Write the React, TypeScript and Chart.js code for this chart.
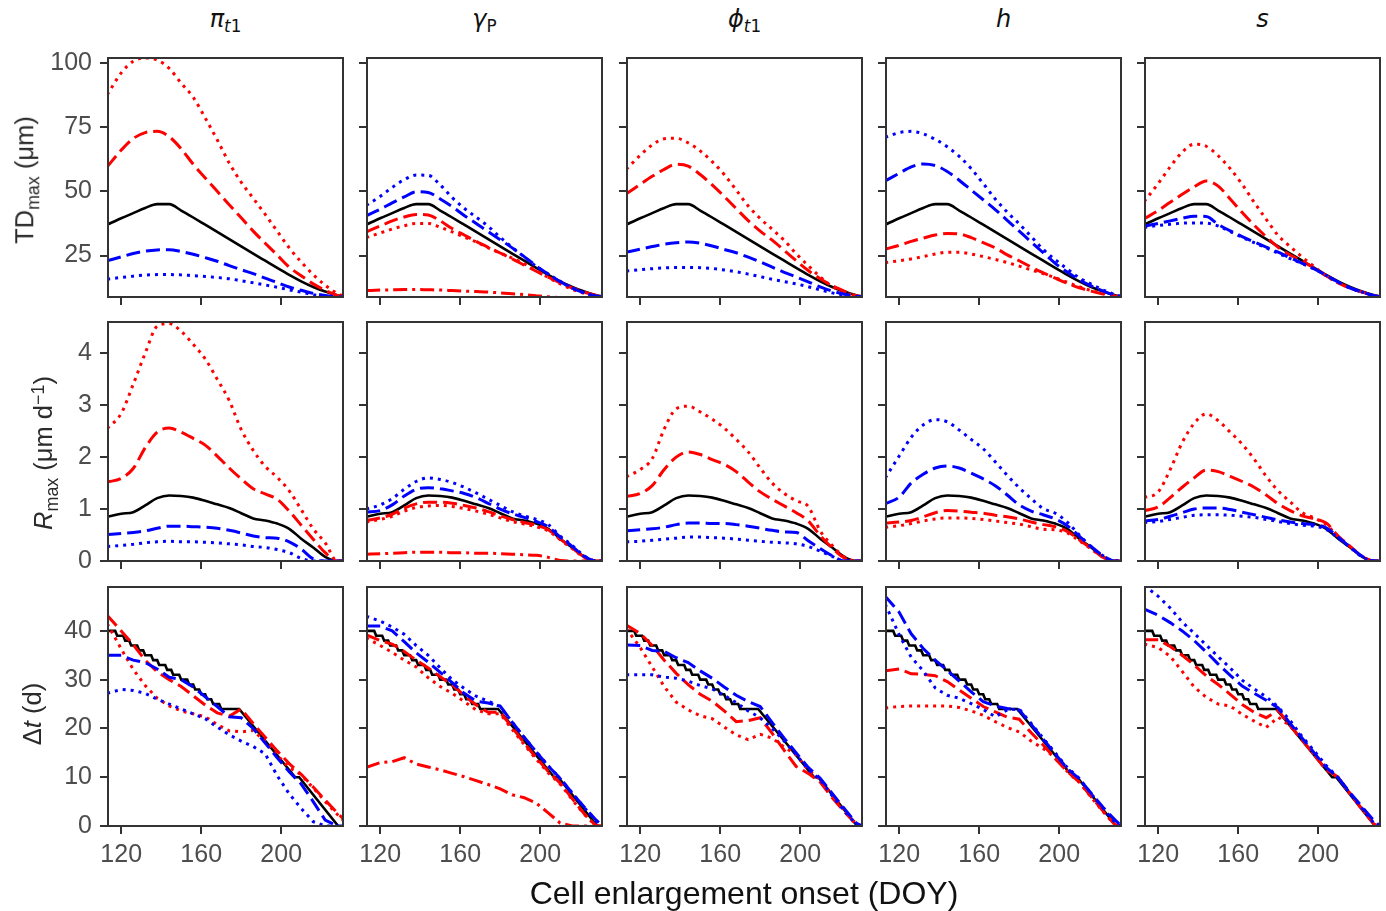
import React, { useEffect, useRef } from "react";
import { Chart, registerables } from "chart.js";
Chart.register(...registerables);

// ---------- shared x grid (DOY) for the smooth rows ----------
const X = [113, 120, 126, 132, 138, 144, 150, 156, 162, 168, 174, 180, 186, 192, 198, 204, 210, 216, 222, 228, 231];

// ---------- Row 1: TDmax (µm) ----------
const TD_BASE = [37, 39.5, 41.5, 43.5, 45, 45, 42.5, 39.8, 37, 34.2, 31.4, 28.6, 25.8, 23, 20.2, 17.5, 15, 12.8, 11, 9.6, 9.1];
const TD_PI_RDOT = [87.5, 96, 100.5, 101.8, 101, 97.8, 92, 86.5, 78.5, 70, 61, 53.5, 47.3, 41, 34.5, 28, 22.5, 17.6, 13.5, 10.3, 9.3];
const TD_PI_RDASH = [59.5, 66, 70.5, 72.8, 73.3, 71.2, 66.5, 60.5, 55.2, 50, 44.8, 39.7, 34.5, 29.8, 25.2, 20.5, 17.2, 14, 11.5, 9.5, 9];
const TD_PI_BDASH = [23, 24.5, 25.8, 26.7, 27.2, 27.3, 26.6, 25.5, 24.2, 22.8, 21.1, 19.5, 18, 16.2, 14.5, 12.8, 11.5, 10.3, 9.5, 9, 8.9];
const TD_PI_BDOT = [15.8, 16.5, 17, 17.4, 17.6, 17.6, 17.5, 17.2, 16.9, 16.5, 16, 15.2, 14.4, 13.6, 12.7, 11.7, 10.8, 9.8, 9, 8.7, 8.6];

const TD_GP_BDOT = [44.5, 48, 51.5, 54.5, 56.3, 56.2, 52.5, 47.5, 43.4, 39.9, 36.4, 32.1, 28.2, 24.5, 20.8, 17.8, 15, 12.5, 10.5, 9.2, 9];
const TD_GP_BDASH = [40.5, 43, 45.5, 47.8, 49.8, 49.5, 47, 44, 40.6, 37.5, 34.3, 31.2, 28, 24.6, 21, 17.8, 14.8, 12.3, 10.5, 9.3, 9];
const TD_GP_RDASH = [34.2, 36.5, 38.5, 40, 41, 40.8, 38.5, 35.5, 33, 30.5, 28.2, 26, 23.7, 21.3, 18.9, 16.6, 14.4, 12.4, 10.8, 9.5, 9];
const TD_GP_RDOT = [32, 33.8, 35.3, 36.6, 37.5, 37.5, 36, 34.2, 32.2, 30.3, 28, 26, 24, 21.8, 19.2, 16.5, 14, 11.9, 10.3, 9.3, 9];
const TD_GP_RDD = [11.4, 11.6, 11.7, 11.8, 11.8, 11.7, 11.6, 11.4, 11.2, 11, 10.8, 10.5, 10.2, 9.8, 9.4, 9, 8.6, 8.3, 8, 7.7, 7.6];

const TD_PH_RDOT = [58.5, 64, 68, 70.4, 70.6, 68.8, 65.7, 61.5, 56.5, 50.5, 44.3, 39.4, 35.2, 30.9, 25.7, 21.1, 16.7, 13, 10.8, 9.3, 9];
const TD_PH_RDASH = [49, 52.7, 55.8, 58.5, 60.5, 59.8, 56.5, 52.5, 48, 43.3, 38.6, 34.5, 31, 27, 23, 19.2, 16, 13.3, 11.2, 9.4, 9];
const TD_PH_BDASH = [26.3, 27.5, 28.5, 29.4, 30, 30.3, 29.8, 28.7, 27.4, 26.1, 24.4, 22.6, 20.5, 18.5, 16.7, 14.8, 12.8, 11.2, 10, 9.2, 9];
const TD_PH_BDOT = [19, 19.5, 19.9, 20.2, 20.4, 20.4, 20.3, 20, 19.4, 18.7, 17.8, 16.8, 15.8, 14.9, 14, 12.9, 11.7, 10.5, 9.6, 9, 8.9];

const TD_H_BDOT = [71, 72.8, 73.3, 72.3, 70.2, 67.3, 63.6, 58.8, 53, 47, 41.9, 37.3, 32.4, 27.4, 23.4, 19.8, 16.4, 13.9, 11.6, 9.8, 9.1];
const TD_H_BDASH = [54, 57, 59.5, 60.6, 60, 57.7, 54.3, 50.5, 46.7, 42.9, 38.7, 34.5, 30.3, 26.1, 22, 18.6, 15.6, 13.2, 11.2, 9.5, 9.1];
const TD_H_RDASH = [27.5, 29, 30.5, 31.8, 33, 33.6, 33.4, 32, 30, 28, 25.3, 23, 20.5, 18.3, 16.2, 14.2, 12.5, 11.2, 10.1, 9.3, 9];
const TD_H_RDOT = [22.3, 23, 23.7, 24.6, 25.6, 26.3, 26.3, 25.6, 24.6, 23.5, 22.3, 20.9, 19.4, 18, 16.4, 14.6, 12.9, 11.4, 10.3, 9.3, 9];

const TD_S_RDOT = [46, 53, 59.5, 65.2, 68.3, 67.5, 63.8, 58.8, 52.7, 45.7, 39.1, 32.8, 28.5, 24.4, 20.7, 17, 14.5, 12.4, 10.8, 9.4, 9];
const TD_S_RDASH = [39.3, 42.5, 45.7, 48.8, 51.7, 54, 52, 47, 41.7, 36.8, 32.3, 28.2, 25.2, 22.8, 20.2, 17.2, 14.4, 12.3, 10.8, 9.4, 9];
const TD_S_BDASH = [36.5, 37.5, 38.5, 39.5, 40.3, 40.2, 37.1, 34.6, 32.4, 30.3, 28.3, 26.3, 24.1, 22, 19.8, 17.3, 14.7, 12.4, 10.8, 9.4, 9];
const TD_S_BDOT = [36, 36.7, 37.2, 37.6, 37.7, 37.6, 36.5, 34.3, 32.1, 30, 28, 25.9, 23.8, 21.9, 19.8, 17.3, 14.7, 12.4, 10.8, 9.4, 9];

// ---------- Row 2: Rmax (µm d-1) ----------
const R_BASE = [0.85, 0.91, 0.94, 1.07, 1.21, 1.26, 1.25, 1.22, 1.16, 1.09, 1.02, 0.92, 0.82, 0.78, 0.72, 0.62, 0.43, 0.26, 0.08, 0, 0];
const R_PI_RDOT = [2.55, 2.84, 3.4, 4.0, 4.52, 4.57, 4.42, 4.17, 3.89, 3.5, 3.09, 2.53, 2.13, 1.82, 1.61, 1.35, 0.99, 0.62, 0.35, 0, 0];
const R_PI_RDASH = [1.52, 1.59, 1.78, 2.18, 2.48, 2.56, 2.48, 2.36, 2.23, 2.02, 1.79, 1.58, 1.39, 1.29, 1.19, 0.96, 0.69, 0.42, 0.16, 0, 0];
const R_PI_BDASH = [0.51, 0.53, 0.55, 0.58, 0.63, 0.67, 0.67, 0.66, 0.65, 0.63, 0.59, 0.54, 0.48, 0.45, 0.44, 0.37, 0.23, 0.04, 0, 0, 0];
const R_PI_BDOT = [0.28, 0.3, 0.32, 0.35, 0.37, 0.38, 0.37, 0.37, 0.36, 0.35, 0.33, 0.31, 0.28, 0.26, 0.22, 0.16, 0.05, 0, 0, 0, 0];

const R_GP_BDOT = [1.0, 1.08, 1.2, 1.38, 1.53, 1.6, 1.57, 1.51, 1.42, 1.31, 1.19, 1.07, 0.95, 0.87, 0.8, 0.7, 0.48, 0.3, 0.1, 0, 0];
const R_GP_BDASH = [0.94, 0.97, 1.08, 1.25, 1.38, 1.41, 1.39, 1.35, 1.3, 1.22, 1.11, 1.0, 0.91, 0.84, 0.76, 0.66, 0.46, 0.28, 0.09, 0, 0];
const R_GP_RDASH = [0.78, 0.83, 0.9, 1.02, 1.1, 1.13, 1.13, 1.11, 1.07, 1.02, 0.95, 0.87, 0.8, 0.74, 0.69, 0.6, 0.42, 0.25, 0.08, 0, 0];
const R_GP_RDOT = [0.75, 0.8, 0.86, 0.96, 1.03, 1.06, 1.07, 1.05, 1.01, 0.96, 0.9, 0.83, 0.76, 0.71, 0.66, 0.58, 0.41, 0.24, 0.07, 0, 0];
const R_GP_RDD = [0.13, 0.14, 0.15, 0.16, 0.17, 0.17, 0.17, 0.16, 0.16, 0.15, 0.15, 0.14, 0.13, 0.12, 0.11, 0.07, 0.01, 0, 0, 0, 0];

const R_PH_RDOT = [1.62, 1.76, 1.97, 2.54, 2.93, 2.98, 2.87, 2.73, 2.56, 2.34, 2.1, 1.79, 1.5, 1.3, 1.16, 1.05, 0.58, 0.3, 0.08, 0, 0];
const R_PH_RDASH = [1.24, 1.3, 1.45, 1.76, 2.0, 2.1, 2.05, 1.95, 1.86, 1.72, 1.52, 1.33, 1.19, 1.06, 0.93, 0.77, 0.49, 0.25, 0.06, 0, 0];
const R_PH_BDASH = [0.58, 0.6, 0.62, 0.65, 0.7, 0.73, 0.73, 0.72, 0.72, 0.7, 0.67, 0.63, 0.59, 0.56, 0.55, 0.39, 0.24, 0.1, 0, 0, 0];
const R_PH_BDOT = [0.37, 0.38, 0.4, 0.42, 0.44, 0.46, 0.46, 0.45, 0.44, 0.42, 0.4, 0.38, 0.36, 0.35, 0.33, 0.28, 0.19, 0.09, 0, 0, 0];

const R_H_BDOT = [1.6, 2.02, 2.38, 2.62, 2.72, 2.68, 2.52, 2.34, 2.16, 1.91, 1.65, 1.41, 1.2, 1.01, 0.92, 0.75, 0.5, 0.27, 0.1, 0, 0];
const R_H_BDASH = [1.1, 1.23, 1.5, 1.67, 1.79, 1.83, 1.79, 1.69, 1.58, 1.45, 1.27, 1.08, 0.96, 0.89, 0.81, 0.68, 0.48, 0.28, 0.1, 0, 0];
const R_H_RDASH = [0.73, 0.75, 0.78, 0.85, 0.93, 0.97, 0.96, 0.94, 0.92, 0.88, 0.85, 0.81, 0.75, 0.7, 0.66, 0.57, 0.41, 0.24, 0.07, 0, 0];
const R_H_RDOT = [0.65, 0.68, 0.72, 0.77, 0.81, 0.83, 0.83, 0.82, 0.8, 0.77, 0.74, 0.71, 0.66, 0.61, 0.6, 0.54, 0.39, 0.23, 0.07, 0, 0];

const R_S_RDOT = [1.22, 1.33, 1.76, 2.28, 2.65, 2.83, 2.7, 2.48, 2.25, 1.96, 1.63, 1.35, 1.14, 0.93, 0.83, 0.7, 0.47, 0.28, 0.09, 0, 0];
const R_S_RDASH = [0.97, 1.04, 1.22, 1.42, 1.6, 1.75, 1.72, 1.63, 1.53, 1.42, 1.27, 1.1, 0.97, 0.87, 0.81, 0.73, 0.48, 0.28, 0.09, 0, 0];
const R_S_BDASH = [0.77, 0.8, 0.86, 0.93, 1.0, 1.02, 1.02, 0.99, 0.94, 0.89, 0.84, 0.79, 0.75, 0.72, 0.7, 0.64, 0.46, 0.27, 0.09, 0, 0];
const R_S_BDOT = [0.74, 0.76, 0.8, 0.84, 0.88, 0.89, 0.89, 0.88, 0.86, 0.84, 0.8, 0.76, 0.72, 0.69, 0.67, 0.61, 0.44, 0.26, 0.08, 0, 0];

// ---------- Row 3: Δt (d) ----------
const DT_BLACK_X = [113, 117, 118, 121, 122, 124, 125, 128, 129, 131, 132, 135, 136, 138, 139, 142, 143, 145, 146, 149, 150, 153, 154, 156, 157, 159, 160, 162, 163, 165, 166, 169, 170, 179, 207, 209, 228.5];
const DT_BLACK_Y = [40, 40, 39, 39, 38, 38, 37, 37, 36, 36, 35, 35, 34, 34, 33, 33, 32, 32, 31, 31, 30, 30, 29, 29, 28, 28, 27, 27, 26, 26, 25, 25, 24, 24, 10, 10, 0];

const DT_PI_RDASH = [43.2, 40, 37.2, 34, 31.6, 30, 28.6, 26.7, 24.8, 23.2, 22.5, 24, 21, 18.2, 15.4, 12.8, 10.6, 8, 5.3, 2.7, 1.5];
const DT_PI_RDOT = [41.5, 36.3, 32.1, 28.8, 26.2, 24.6, 23.6, 23, 22.4, 20.8, 19.5, 19.3, 19.6, 17.3, 14.5, 12, 10.5, 7.8, 5, 2.4, 1.2];
const DT_PI_BDASH = [35, 35, 34, 33.5, 32.2, 30.5, 30, 28.5, 26.5, 24.5, 22.4, 22.2, 20, 17, 14, 11.1, 8.6, 5, 1.2, 0, 0];
const DT_PI_BDOT = [27.2, 28, 27.8, 27.2, 26, 25, 24, 23, 22, 20.3, 18.7, 17.4, 16.3, 14.8, 10.3, 6.6, 3.6, 0.9, 0, 0, 0];

const DT_GP_BDOT = [43, 42, 40.8, 39.3, 37, 35, 32.4, 30, 28.2, 26.6, 25.6, 24.5, 21.3, 18.2, 15.2, 12.4, 9.7, 6.8, 3.8, 1, 0];
const DT_GP_BDASH = [41, 41, 40, 37.8, 35.5, 33.6, 31.5, 29.4, 27.2, 25.6, 25.2, 24.6, 21.3, 18.2, 15.2, 12.3, 9.8, 6.7, 3.9, 1.2, 0];
const DT_GP_RDASH = [39.2, 38, 37.3, 35.8, 34, 32.4, 30.6, 28.9, 26.8, 24.8, 23.3, 23.3, 20.2, 17, 14, 11.2, 8.8, 5.6, 2.5, 0, 0];
const DT_GP_RDOT = [38.6, 37, 35.6, 34, 32.6, 30.4, 28.6, 27.2, 25.5, 23.8, 23, 23, 19.8, 16.7, 13.7, 10.9, 8.6, 5.4, 2.4, 0, 0];
const DT_GP_RDD = [12, 13, 13.2, 14, 12.7, 12.1, 11.5, 10.8, 10.1, 9.3, 8.5, 7.6, 6.4, 5.8, 4.7, 2.7, 0.6, 0, 0, 0, 0];

const DT_PH_RDASH = [41.2, 39.5, 37, 34, 31.3, 29, 27, 25.6, 23.6, 21.4, 21.6, 22.2, 19, 15.5, 12.2, 10.8, 9, 5.8, 3, 0.3, 0];
const DT_PH_RDOT = [40.5, 36.6, 32.6, 28.6, 25.4, 23.8, 22.6, 22, 20.3, 18.7, 17.7, 18.8, 18, 16.2, 14.6, 11.5, 9.5, 6.4, 3.3, 0.4, 0];
const DT_PH_BDASH = [37.1, 37, 36, 35.8, 34.5, 33.5, 31.8, 30.3, 28.5, 26.8, 25.5, 24.5, 21.2, 18, 15, 12, 9.8, 6.7, 3.6, 0.6, 0];
const DT_PH_BDOT = [31, 31, 31, 30.5, 30.3, 29.7, 28.8, 28.1, 26.8, 25.3, 23.6, 22.2, 20, 17.4, 14.6, 11.6, 9.5, 6.2, 3.1, 0.3, 0];

const DT_H_BDASH = [47.1, 43.8, 39.4, 36.4, 34, 31.9, 29.7, 27.5, 25.5, 24.6, 24.1, 23.8, 20.8, 17.8, 14.8, 11.8, 9.7, 6.7, 3.8, 1.2, 0];
const DT_H_BDOT = [45.5, 39.2, 34.6, 31.8, 28.3, 26.8, 26.2, 25.1, 23.9, 22.4, 23.8, 24, 21, 18, 15, 12, 9.8, 6.6, 3.6, 0.7, 0];
const DT_H_RDASH = [31.8, 32.2, 31.2, 31.1, 30.8, 29.6, 27.9, 26.2, 24.5, 23.4, 22.3, 21.9, 19.1, 16.6, 13.8, 11.2, 9, 6, 3, 0.2, 0];
const DT_H_RDOT = [24.2, 24.5, 24.6, 24.6, 24.6, 24.6, 24.3, 23.6, 22.7, 21.4, 20.2, 19.3, 17.4, 15.9, 14, 11.2, 9, 5.9, 2.9, 0.1, 0];

const DT_S_BDOT = [49.3, 47.1, 44.7, 41.8, 39.5, 37.1, 34.7, 32.4, 29.9, 28.1, 26.5, 24.4, 21.6, 18.3, 15.4, 12.4, 9.9, 6.6, 3.6, 0.5, 0];
const DT_S_BDASH = [44.5, 43.2, 41.7, 40, 38, 35.7, 33.2, 30.9, 28.7, 27.2, 25.8, 24.2, 21, 18, 15, 12, 9.9, 6.8, 3.9, 1, 0];
const DT_S_RDASH = [38.2, 38.2, 36.8, 35, 33, 30.8, 29, 27, 24.9, 23.3, 22.2, 23.7, 20.6, 17.6, 14.6, 11.5, 10, 6.6, 3.4, 0.3, 0];
const DT_S_RDOT = [37.3, 36.6, 34.8, 31.7, 28.5, 26.4, 25, 24.6, 22.9, 21.5, 20.2, 22.3, 20.5, 17.6, 14.6, 11.5, 10, 6.6, 3.4, 0.3, 0];

// ---------- ticks & ranges ----------
const X_TICKS = [120, 160, 200];
const TD_TICKS = [25, 50, 75, 100];
const R_TICKS = [0, 1, 2, 3, 4];
const DT_TICKS = [0, 10, 20, 30, 40];
const Y_TICKS = [TD_TICKS, R_TICKS, DT_TICKS];
const Y_RANGES = [[8.9, 101.8], [0, 4.6], [0, 49]];
const X_RANGE = [113.4, 230.9];

// ---------- styles ----------
const STYLES: Record<string, { color: string; dash: number[]; w: number }> = {
  k: { color: "#000000", dash: [], w: 2.6 },
  rd: { color: "#ff0000", dash: [14, 6], w: 3 },
  ro: { color: "#ff0000", dash: [3, 5], w: 3 },
  bd: { color: "#0000ff", dash: [14, 6], w: 3 },
  bo: { color: "#0000ff", dash: [3, 5], w: 3 },
  rdd: { color: "#ff0000", dash: [14, 5, 3, 5], w: 3 },
};

const ROWS: [string, number[]][][][] = [
  [
    [["bo", TD_PI_BDOT], ["bd", TD_PI_BDASH], ["ro", TD_PI_RDOT], ["rd", TD_PI_RDASH]],
    [["bo", TD_GP_BDOT], ["bd", TD_GP_BDASH], ["ro", TD_GP_RDOT], ["rd", TD_GP_RDASH], ["rdd", TD_GP_RDD]],
    [["bo", TD_PH_BDOT], ["bd", TD_PH_BDASH], ["ro", TD_PH_RDOT], ["rd", TD_PH_RDASH]],
    [["bo", TD_H_BDOT], ["bd", TD_H_BDASH], ["ro", TD_H_RDOT], ["rd", TD_H_RDASH]],
    [["bo", TD_S_BDOT], ["bd", TD_S_BDASH], ["ro", TD_S_RDOT], ["rd", TD_S_RDASH]],
  ],
  [
    [["bo", R_PI_BDOT], ["bd", R_PI_BDASH], ["ro", R_PI_RDOT], ["rd", R_PI_RDASH]],
    [["bo", R_GP_BDOT], ["bd", R_GP_BDASH], ["ro", R_GP_RDOT], ["rd", R_GP_RDASH], ["rdd", R_GP_RDD]],
    [["bo", R_PH_BDOT], ["bd", R_PH_BDASH], ["ro", R_PH_RDOT], ["rd", R_PH_RDASH]],
    [["bo", R_H_BDOT], ["bd", R_H_BDASH], ["ro", R_H_RDOT], ["rd", R_H_RDASH]],
    [["bo", R_S_BDOT], ["bd", R_S_BDASH], ["ro", R_S_RDOT], ["rd", R_S_RDASH]],
  ],
  [
    [["bo", DT_PI_BDOT], ["bd", DT_PI_BDASH], ["ro", DT_PI_RDOT], ["rd", DT_PI_RDASH]],
    [["bo", DT_GP_BDOT], ["bd", DT_GP_BDASH], ["ro", DT_GP_RDOT], ["rd", DT_GP_RDASH], ["rdd", DT_GP_RDD]],
    [["bo", DT_PH_BDOT], ["bd", DT_PH_BDASH], ["ro", DT_PH_RDOT], ["rd", DT_PH_RDASH]],
    [["bo", DT_H_BDOT], ["bd", DT_H_BDASH], ["ro", DT_H_RDOT], ["rd", DT_H_RDASH]],
    [["bo", DT_S_BDOT], ["bd", DT_S_BDASH], ["ro", DT_S_RDOT], ["rd", DT_S_RDASH]],
  ],
];

// ---------- layout ----------
const COL_LEFT = [108, 367, 627, 886, 1145];
const ROW_TOP = [58, 322, 587];
const PW = 235;
const PH = 239;
const SANS = '"Liberation Sans", Arial, sans-serif';
const MATH = '"DejaVu Sans", sans-serif';
const TICK_COLOR = "#4d4d4d";
const FRAME = "#333333";

const framePlugin = {
  id: "frame",
  afterDatasetsDraw(chart: any) {
    const { ctx, chartArea: a } = chart;
    ctx.save();
    ctx.strokeStyle = FRAME;
    ctx.lineWidth = 2;
    ctx.strokeRect(a.left, a.top, a.right - a.left, a.bottom - a.top);
    ctx.restore();
  },
};

function geom(r: number, c: number) {
  const padL = c === 0 ? COL_LEFT[0] : 14;
  const padR = 4;
  const padT = 14;
  const padB = r === 2 ? 56 : 14;
  return { padL, padR, padT, padB, W: padL + PW + padR, H: padT + PH + padB, left: COL_LEFT[c] - padL, top: ROW_TOP[r] - padT };
}

function mkDataset(xs: number[], ys: number[], st: string, smooth: boolean) {
  return {
    data: xs.map((x, i) => ({ x, y: ys[i] })),
    borderColor: STYLES[st].color,
    borderDash: STYLES[st].dash,
    borderWidth: STYLES[st].w,
    borderCapStyle: "butt",
    pointRadius: 0,
    fill: false,
    tension: 0,
    cubicInterpolationMode: smooth ? "monotone" : "default",
    clip: 0,
  };
}

function Panel({ r, c }: { r: number; c: number }) {
  const ref = useRef<HTMLCanvasElement | null>(null);
  const g = geom(r, c);
  useEffect(() => {
    const smooth = r < 2;
    const datasets: any[] = ROWS[r][c].map(([st, ys]) => mkDataset(X, ys, st, smooth));
    const bx = r === 2 ? DT_BLACK_X : X;
    const by = r === 0 ? TD_BASE : r === 1 ? R_BASE : DT_BLACK_Y;
    datasets.push(mkDataset(bx, by, "k", smooth));
    const chart = new Chart(ref.current as HTMLCanvasElement, {
      type: "line",
      data: { datasets },
      options: {
        animation: false,
        responsive: false,
        maintainAspectRatio: false,
        devicePixelRatio: 1,
        events: [],
        layout: { padding: { left: 0, right: g.padR, top: g.padT, bottom: 0 } },
        plugins: { legend: { display: false }, tooltip: { enabled: false }, title: { display: false } },
        scales: {
          x: {
            type: "linear",
            position: "bottom",
            min: X_RANGE[0],
            max: X_RANGE[1],
            afterBuildTicks: (s: any) => {
              s.ticks = X_TICKS.map((v) => ({ value: v }));
            },
            afterFit: (s: any) => {
              s.height = g.padB;
              s.paddingLeft = 0;
              s.paddingRight = 0;
            },
            border: { display: false },
            grid: { drawOnChartArea: false, drawTicks: true, tickLength: 8, color: FRAME, tickColor: FRAME, lineWidth: 2, tickWidth: 2 },
            ticks: {
              display: r === 2,
              autoSkip: false,
              maxRotation: 0,
              minRotation: 0,
              padding: 6,
              color: TICK_COLOR,
              font: { family: SANS, size: 25 },
              callback: (v: any) => String(v),
            },
          },
          y: {
            type: "linear",
            position: "left",
            min: Y_RANGES[r][0],
            max: Y_RANGES[r][1],
            afterBuildTicks: (s: any) => {
              s.ticks = Y_TICKS[r].map((v) => ({ value: v }));
            },
            afterFit: (s: any) => {
              s.width = g.padL;
              s.paddingTop = 0;
              s.paddingBottom = 0;
            },
            border: { display: false },
            grid: { drawOnChartArea: false, drawTicks: true, tickLength: 8, color: FRAME, tickColor: FRAME, lineWidth: 2, tickWidth: 2 },
            ticks: {
              display: c === 0,
              autoSkip: false,
              padding: 8,
              color: TICK_COLOR,
              font: { family: SANS, size: 25 },
              callback: (v: any) => String(v),
            },
          },
        },
      } as any,
      plugins: [framePlugin],
    });
    return () => chart.destroy();
  }, [r, c]);
  return (
    <canvas
      ref={ref}
      width={g.W}
      height={g.H}
      style={{ position: "absolute", left: g.left, top: g.top, width: g.W, height: g.H }}
    />
  );
}

const Sub = ({ children }: { children: any }) => (
  <span style={{ fontSize: "0.7em", position: "relative", top: "0.32em" }}>{children}</span>
);
const Sup = ({ children }: { children: any }) => (
  <span style={{ fontSize: "0.7em", position: "relative", top: "-0.45em" }}>{children}</span>
);

const COL_TITLES = [
  <>
    <i>π</i>
    <Sub>
      <i>t</i>1
    </Sub>
  </>,
  <>
    <i>γ</i>
    <Sub>P</Sub>
  </>,
  <>
    <i>ϕ</i>
    <Sub>
      <i>t</i>1
    </Sub>
  </>,
  <i>h</i>,
  <i>s</i>,
];

const Y_TITLES = [
  <>
    TD<Sub>max</Sub> (μm)
  </>,
  <>
    <i>R</i>
    <Sub>max</Sub> (μm d<Sup>−1</Sup>)
  </>,
  <>
    Δ<i>t</i> (d)
  </>,
];
const Y_TITLE_POS = [
  [25, 180],
  [44, 453],
  [33, 714],
];

export default function App() {
  const panels: any[] = [];
  for (let r = 0; r < 3; r++) for (let c = 0; c < 5; c++) panels.push(<Panel key={`${r}-${c}`} r={r} c={c} />);
  return (
    <div style={{ position: "absolute", left: 0, top: 0, width: 1386, height: 911, background: "#ffffff", overflow: "hidden" }}>
      {panels}
      {COL_TITLES.map((t, c) => (
        <div
          key={`ct${c}`}
          style={{
            position: "absolute",
            left: COL_LEFT[c] + PW / 2,
            top: 19,
            transform: "translate(-50%, -50%)",
            fontFamily: MATH,
            fontSize: 24,
            lineHeight: 1,
            whiteSpace: "nowrap",
            color: "#111111",
          }}
        >
          {t}
        </div>
      ))}
      {Y_TITLES.map((t, r) => (
        <div
          key={`yt${r}`}
          style={{
            position: "absolute",
            left: Y_TITLE_POS[r][0],
            top: Y_TITLE_POS[r][1],
            transform: "translate(-50%, -50%) rotate(-90deg)",
            fontFamily: SANS,
            fontSize: 25.5,
            lineHeight: 1,
            whiteSpace: "nowrap",
            color: "#2b2b2b",
          }}
        >
          {t}
        </div>
      ))}
      <div
        style={{
          position: "absolute",
          left: 744,
          top: 893,
          transform: "translate(-50%, -50%)",
          fontFamily: SANS,
          fontSize: 32,
          lineHeight: 1,
          whiteSpace: "nowrap",
          color: "#111111",
        }}
      >
        Cell enlargement onset (DOY)
      </div>
    </div>
  );
}
